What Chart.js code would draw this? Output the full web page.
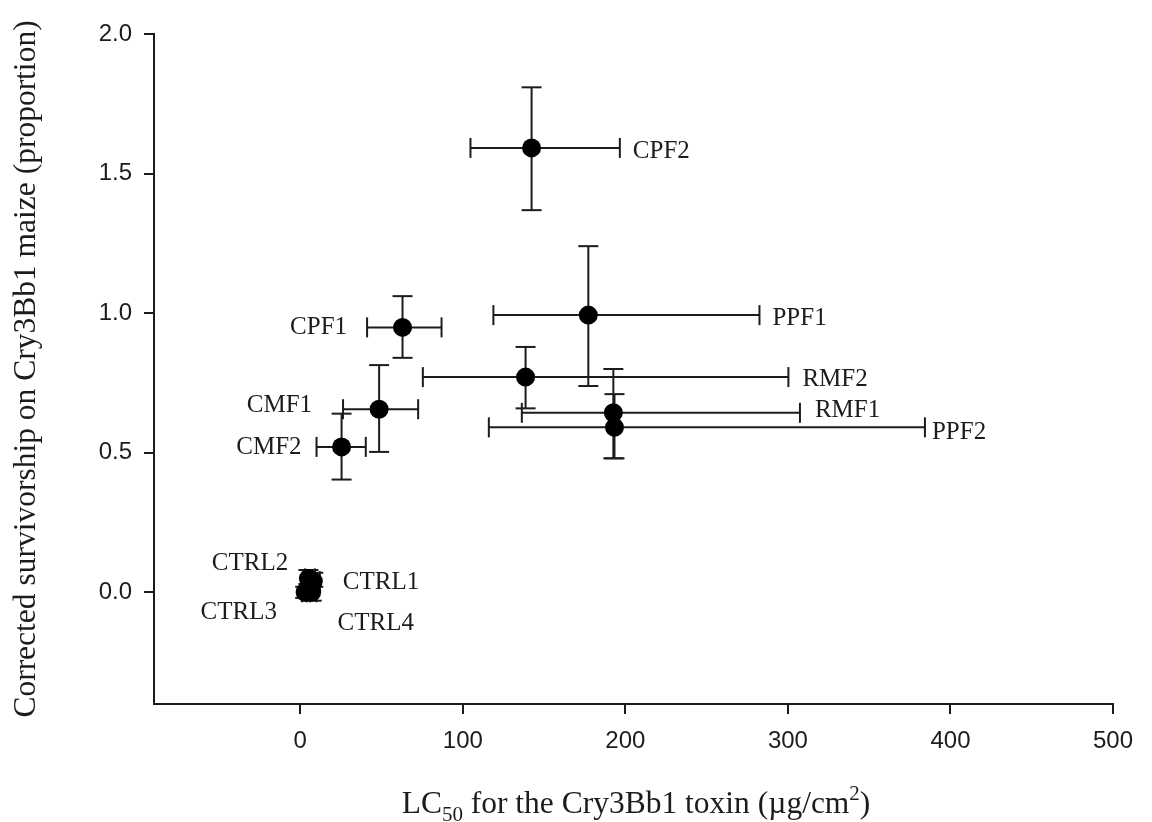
<!DOCTYPE html>
<html>
<head>
<meta charset="utf-8">
<script src="https://cdn.jsdelivr.net/npm/chart.js@4.4.1/dist/chart.umd.min.js"></script>
<style>
html,body{margin:0;padding:0;background:#fff;}
#wrap{width:1152px;height:822px;position:relative;}
</style>
</head>
<body>
<div id="wrap"><canvas id="c"></canvas></div>
<script>
// ---- data ----
const names = ['CPF2','PPF1','RMF2','RMF1','PPF2','CPF1','CMF1','CMF2','CTRL1','CTRL2','CTRL3','CTRL4'];
const lc50     = [142.3, 177.2, 138.6, 192.6, 193.3, 62.9, 48.5, 25.4, 8, 5, 3, 7];
const lc50Low  = [104.7, 118.8,  75.4, 136.3, 116.0, 41.1, 26.3, 10.0, 5, 3, 1, 4];
const lc50High = [196.6, 282.5, 300.3, 307.4, 384.3, 86.9, 72.5, 40.3, 12, 9, 6, 10];
const surv     = [1.592, 0.993, 0.771, 0.643, 0.591, 0.949, 0.656, 0.521, 0.04, 0.05, 0.0, 0.0];
const survLow  = [1.369, 0.739, 0.659, 0.480, 0.480, 0.840, 0.503, 0.404, 0.02, 0.03, -0.02, -0.03];
const survHigh = [1.809, 1.240, 0.879, 0.800, 0.710, 1.061, 0.814, 0.640, 0.07, 0.08, 0.02, 0.02];
const xTickValues = [0, 100, 200, 300, 400, 500];
const yTickValues = [0, 0.5, 1.0, 1.5, 2.0];
const xTitleParts = ['LC', '50', ' for the Cry3Bb1 toxin (\u00b5g/cm', '2', ')'];
const yTitle = 'Corrected survivorship on Cry3Bb1 maize (proportion)';

// ---- label layout (side, gap px from cap, vertical offset px) ----
const labelSide = ['right','right','right','right','right','left','left','left','right','left','left','right'];
const labelGap  = [13, 13, 14, 15, 7, 20, 31, 15, 23, 17, 25, 21];
const labelDy   = [4, 3, 2, -2, 5, 0, -4, 1, 1, -15, 20, 31];

const INK = '#1c1c1c';
const serif = '"Liberation Serif", "Times New Roman", serif';
const sans = '"Liberation Sans", Arial, sans-serif';

const datasets = [];
datasets.push({
  type: 'scatter',
  label: 'points',
  data: names.map((n, i) => ({x: lc50[i], y: surv[i]})),
  pointRadius: 9.5,
  pointHoverRadius: 9.5,
  pointBackgroundColor: '#000',
  pointBorderColor: '#000',
  pointBorderWidth: 0,
  order: 0
});
names.forEach((n, i) => {
  datasets.push({
    type: 'line',
    label: n + ' x-err',
    data: [{x: lc50Low[i], y: surv[i]}, {x: lc50High[i], y: surv[i]}],
    borderColor: INK, borderWidth: 2,
    pointStyle: 'line', pointRotation: 90, pointRadius: 10, pointHoverRadius: 10,
    pointBorderColor: INK, pointBorderWidth: 2,
    fill: false, tension: 0, order: 1
  });
  datasets.push({
    type: 'line',
    label: n + ' y-err',
    data: [{x: lc50[i], y: survLow[i]}, {x: lc50[i], y: survHigh[i]}],
    borderColor: INK, borderWidth: 2,
    pointStyle: 'line', pointRotation: 0, pointRadius: 10, pointHoverRadius: 10,
    pointBorderColor: INK, pointBorderWidth: 2,
    fill: false, tension: 0, order: 1
  });
});

const labelPlugin = {
  id: 'pointLabels',
  afterDatasetsDraw(chart) {
    const ctx = chart.ctx, xs = chart.scales.x, ys = chart.scales.y;
    ctx.save();
    ctx.font = '25px ' + serif;
    ctx.fillStyle = INK;
    ctx.textBaseline = 'middle';
    names.forEach((n, i) => {
      const py = ys.getPixelForValue(surv[i]) + labelDy[i];
      if (labelSide[i] === 'right') {
        ctx.textAlign = 'left';
        ctx.fillText(n, xs.getPixelForValue(lc50High[i]) + labelGap[i], py);
      } else {
        ctx.textAlign = 'right';
        ctx.fillText(n, xs.getPixelForValue(lc50Low[i]) - labelGap[i], py);
      }
    });
    ctx.restore();
  }
};

const titlePlugin = {
  id: 'axisTitles',
  afterDraw(chart) {
    const ctx = chart.ctx;
    const area = chart.chartArea;
    ctx.save();
    ctx.fillStyle = INK;
    ctx.textBaseline = 'alphabetic';
    const big = '31.5px ' + serif, small = '21px ' + serif;
    const fonts = [big, small, big, small, big];
    const shifts = [0, 8, 0, -13, 0];
    let total = 0;
    const widths = xTitleParts.map((t, k) => { ctx.font = fonts[k]; const w = ctx.measureText(t).width; total += w; return w; });
    let x = 636 - total / 2;
    const base = 813;
    xTitleParts.forEach((t, k) => {
      ctx.font = fonts[k];
      ctx.textAlign = 'left';
      ctx.fillText(t, x, base + shifts[k]);
      x += widths[k];
    });
    ctx.translate(35, 369);
    ctx.rotate(-Math.PI / 2);
    ctx.font = big;
    ctx.textAlign = 'center';
    ctx.fillText(yTitle, 0, 0);
    ctx.restore();
  }
};

new Chart(document.getElementById('c'), {
  data: { datasets },
  options: {
    responsive: true,
    maintainAspectRatio: false,
    animation: false,
    layout: { padding: { top: 34, right: 39, left: 0, bottom: 0 } },
    plugins: { legend: { display: false }, tooltip: { enabled: false } },
    scales: {
      x: {
        type: 'linear',
        min: -90, max: 500,
        afterBuildTicks(s) { s.ticks = xTickValues.map(v => ({value: v})); },
        afterFit(s) { s.height = 822 - 704; },
        grid: { display: true, drawOnChartArea: false, drawTicks: true, tickLength: 10, color: INK, lineWidth: 2 },
        border: { display: true, color: INK, width: 2 },
        ticks: { color: INK, font: { family: sans, size: 24 }, padding: 13, maxRotation: 0,
          callback: v => String(v) }
      },
      y: {
        type: 'linear',
        min: -0.4, max: 2.0,
        afterBuildTicks(s) { s.ticks = yTickValues.map(v => ({value: v})); },
        afterFit(s) { s.width = 154; },
        grid: { display: true, drawOnChartArea: false, drawTicks: true, tickLength: 10, color: INK, lineWidth: 2 },
        border: { display: true, color: INK, width: 2 },
        ticks: { color: INK, font: { family: sans, size: 24 }, padding: 12,
          callback: v => Number(v).toFixed(1) }
      }
    }
  },
  plugins: [labelPlugin, titlePlugin]
});
</script>
</body>
</html>
